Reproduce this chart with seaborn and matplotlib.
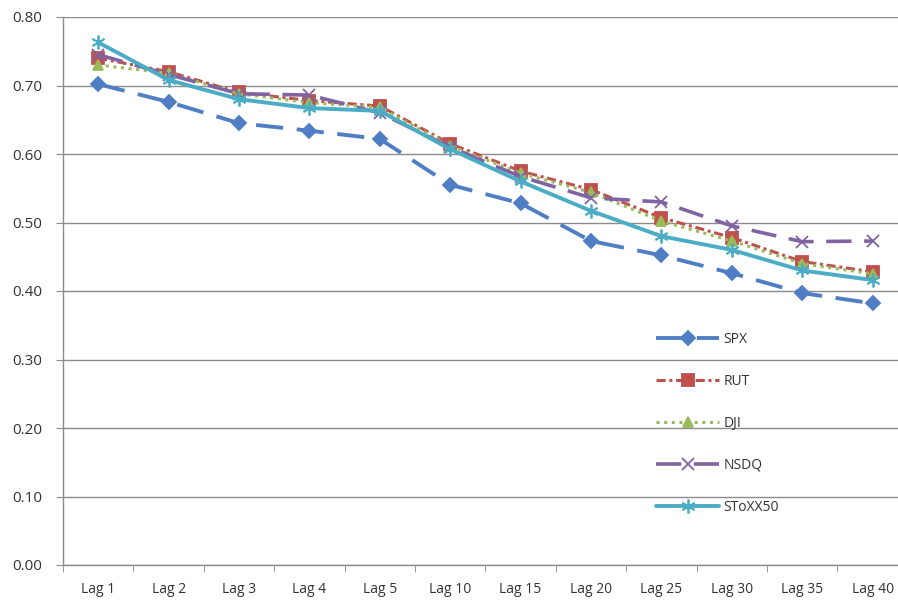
import matplotlib
matplotlib.use("Agg")
import matplotlib.pyplot as plt
import seaborn as sns
import pandas as pd
from matplotlib.ticker import FixedLocator

lags = ["Lag 1", "Lag 2", "Lag 3", "Lag 4", "Lag 5", "Lag 10", "Lag 15",
        "Lag 20", "Lag 25", "Lag 30", "Lag 35", "Lag 40"]
spx = [0.702, 0.676, 0.645, 0.634, 0.622, 0.555, 0.528, 0.473, 0.452, 0.426, 0.397, 0.382]
rut = [0.740, 0.720, 0.690, 0.678, 0.670, 0.615, 0.575, 0.548, 0.507, 0.478, 0.443, 0.428]
dji = [0.730, 0.718, 0.688, 0.675, 0.668, 0.612, 0.572, 0.544, 0.502, 0.473, 0.440, 0.425]
nsdq = [0.745, 0.716, 0.688, 0.686, 0.660, 0.610, 0.567, 0.536, 0.530, 0.495, 0.472, 0.473]
stoxx = [0.763, 0.708, 0.680, 0.667, 0.663, 0.607, 0.560, 0.517, 0.480, 0.460, 0.430, 0.416]
yticks = [0.0, 0.1, 0.2, 0.3, 0.4, 0.5, 0.6, 0.7, 0.8]

sns.set_style("white")
plt.rcParams['font.family'] = ['Open Sans', 'DejaVu Sans']

fig = plt.figure(figsize=(8.98, 6.01), dpi=100)
W, H = 898, 601
left, right, top, bottom = 63, 898, 17, 565
ax = fig.add_axes([left / W, (H - bottom) / H, (right - left) / W, (bottom - top) / H])

series = [
    ("SPX", spx, "#4F7EC4", (0, (7, 3.5)), "D", 7, 2.8),
    ("RUT", rut, "#C0504D", (0, (3, 1.2, 1, 1.2)), "s", 8, 2.2),
    ("DJI", dji, "#9BBB59", (0, (1, 1.5)), "^", 7, 2.2),
    ("NSDQ", nsdq, "#8064A2", (0, (7, 3.5)), "x", 9, 2.6),
    ("SToXX50", stoxx, "#4BACC6", "-", (6, 2, 0), 10, 2.8),
]

for name, vals, col, ls, mk, ms, lw in series:
    df = pd.DataFrame({"lag": lags, "val": vals})
    sns.lineplot(data=df, x="lag", y="val", sort=False, ax=ax, color=col,
                 linestyle=ls, marker=mk, markersize=ms, linewidth=lw,
                 markeredgecolor=col, markerfacecolor=col, markeredgewidth=1.3,
                 label=name)

ax.set_ylim(0, 0.8)
ax.set_xlim(-0.5, (right - left) / 70.4 - 0.5)
ax.set_yticks(yticks)
ax.set_yticklabels([f"{v:.2f}" for v in yticks])
ax.yaxis.grid(True, color="#8c8c8c", linewidth=1)
ax.xaxis.grid(False)
ax.set_xlabel("")
ax.set_ylabel("")
ax.set_xticks(range(len(lags)))
ax.set_xticklabels(lags)
ax.xaxis.set_minor_locator(FixedLocator([i - 0.5 for i in range(len(lags) + 1)]))
ax.tick_params(axis="x", which="major", length=0, pad=12, labelsize=10, colors="#333333")
ax.tick_params(axis="x", which="minor", length=5, color="#8c8c8c", direction="out", bottom=True)
ax.tick_params(axis="y", length=5, color="#8c8c8c", direction="out", left=True, labelsize=11, colors="#333333", pad=10)
for s in ["top", "right"]:
    ax.spines[s].set_visible(False)
for s in ["left", "bottom"]:
    ax.spines[s].set_color("#8c8c8c")
    ax.spines[s].set_linewidth(1)

leg = ax.legend(loc="upper left", bbox_to_anchor=((650 - left) / (right - left), (bottom - 326) / (bottom - top)),
                frameon=False, handlelength=4.6, labelspacing=1.95, fontsize=10,
                handletextpad=0.3, borderaxespad=0)
for t in leg.get_texts():
    t.set_color("#333333")

fig.savefig("out.png", dpi=100)
